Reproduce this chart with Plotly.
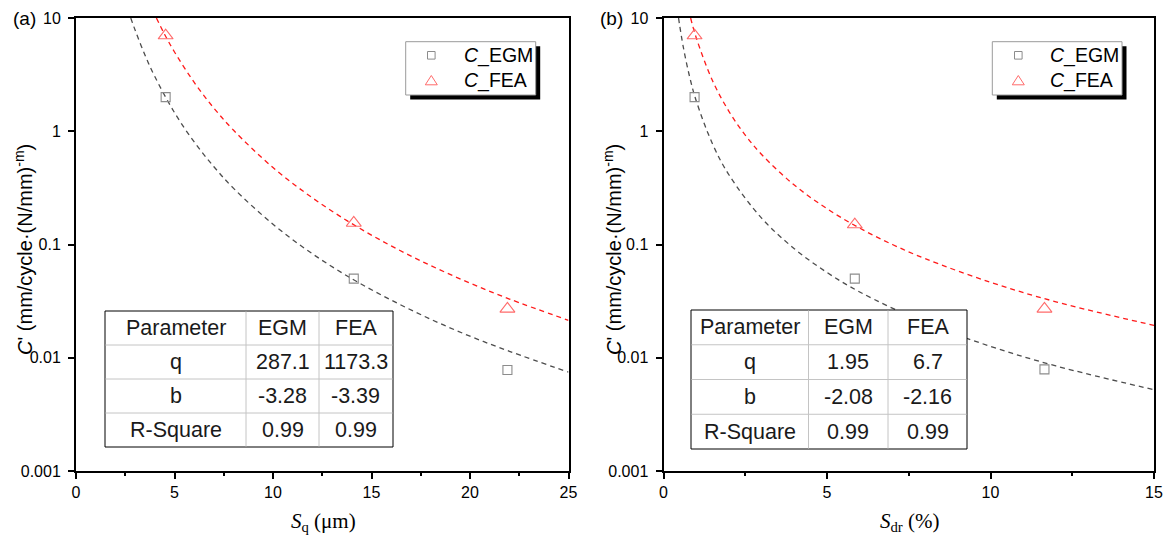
import plotly.graph_objects as go

W, H = 1170, 542

# ---------------- data ----------------
# panel (a): S_q (um)
a_x = [4.55, 14.1, 21.9]
a_egm = [2.0, 0.050, 0.0078]
a_fea = [7.0, 0.155, 0.027]
a_fit_egm_x = [2.78, 3, 3.5, 4, 5, 6, 7, 8, 10, 12, 14, 16, 18, 20, 22, 25]
a_fit_egm_y = [10.0, 7.82, 4.71, 3.04, 1.46, 0.804, 0.486, 0.313, 0.151, 0.0828,
               0.0499, 0.0323, 0.0219, 0.0155, 0.0114, 0.00746]
a_fit_fea_x = [4.08, 4.5, 5, 6, 7, 8, 10, 12, 14, 16, 18, 20, 22, 25]
a_fit_fea_y = [10.0, 7.16, 5.01, 2.70, 1.60, 1.02, 0.478, 0.258, 0.153, 0.0972,
               0.0652, 0.0456, 0.0330, 0.0214]

# panel (b): S_dr (%)
b_x = [0.95, 5.85, 11.65]
b_egm = [2.0, 0.050, 0.0079]
b_fea = [7.0, 0.150, 0.027]
b_fit_egm_x = [0.46, 0.6, 0.8, 1, 1.5, 2, 3, 4, 5, 6, 8, 10, 12, 15]
b_fit_egm_y = [10.0, 5.64, 3.02, 1.86, 0.772, 0.413, 0.171, 0.0918, 0.0566, 0.0381,
               0.0204, 0.0126, 0.00847, 0.00522]
b_fit_fea_x = [0.83, 1, 1.5, 2, 2.5, 3, 4, 5, 6, 7, 8, 10, 12, 15]
b_fit_fea_y = [10.0, 6.7, 2.79, 1.50, 0.925, 0.624, 0.335, 0.207, 0.1395, 0.100,
               0.075, 0.0464, 0.0312, 0.0193]

y_tickvals = [0.001, 0.01, 0.1, 1, 10]
y_ticktext = ["0.001", "0.01", "0.1", "1", "10"]

table_header = ["Parameter", "EGM", "FEA"]
table_params = ["q", "b", "R-Square"]
table_a_egm = ["287.1", "-3.28", "0.99"]
table_a_fea = ["1173.3", "-3.39", "0.99"]
table_b_egm = ["1.95", "-2.08", "0.99"]
table_b_fea = ["6.7", "-2.16", "0.99"]

series_names = ["<i>C</i>_EGM", "<i>C</i>_FEA"]

# ---------------- helpers ----------------
def fx(p):
    return p / W

def fy(p):
    return 1 - p / H

SANS = "Liberation Sans, Arial, sans-serif"
SERIF = "Liberation Serif, Times New Roman, serif"
GREY_LINE = "#4d4d4d"
RED_LINE = "#ff1a1a"
SQ_COL = "#8c8c8c"
TRI_COL = "#ff6b6b"

fig = go.Figure()

def add_panel(xa, ya, px, pe, pf, fex, fey, ffx, ffy):
    fig.add_trace(go.Scatter(x=fex, y=fey, mode="lines", xaxis=xa, yaxis=ya,
                             line=dict(color=GREY_LINE, width=1.3, dash="5px,4px", shape="spline"),
                             showlegend=False, hoverinfo="skip"))
    fig.add_trace(go.Scatter(x=ffx, y=ffy, mode="lines", xaxis=xa, yaxis=ya,
                             line=dict(color=RED_LINE, width=1.3, dash="5px,4px", shape="spline"),
                             showlegend=False, hoverinfo="skip"))
    fig.add_trace(go.Scatter(x=px, y=pe, mode="markers", xaxis=xa, yaxis=ya, name=series_names[0],
                             showlegend=False,
                             marker=dict(symbol="square-open", size=9, color=SQ_COL, line=dict(width=1.1))))
    fig.add_trace(go.Scatter(x=px, y=pf, mode="markers", xaxis=xa, yaxis=ya, name=series_names[1],
                             showlegend=False,
                             marker=dict(symbol="triangle-up-open", size=13, color=TRI_COL, line=dict(width=1.1))))

add_panel("x", "y", a_x, a_egm, a_fea, a_fit_egm_x, a_fit_egm_y, a_fit_fea_x, a_fit_fea_y)
add_panel("x2", "y2", b_x, b_egm, b_fea, b_fit_egm_x, b_fit_egm_y, b_fit_fea_x, b_fit_fea_y)

ydom = [fy(471), fy(18)]
common_x = dict(showline=True, linecolor="black", linewidth=2, mirror=True,
                ticks="outside", ticklen=6, tickwidth=1.5, tickcolor="black",
                showgrid=False, zeroline=False, dtick=5, tick0=0, automargin=False,
                tickfont=dict(family=SANS, size=16, color="black"),
                minor=dict(ticks="outside", ticklen=3, tickwidth=1.5, tickcolor="black", dtick=2.5, showgrid=False))
common_y = dict(type="log", range=[-3, 1], showline=True, linecolor="black", linewidth=2, mirror=True,
                ticks="outside", ticklen=6, tickwidth=1.5, tickcolor="black", automargin=False,
                showgrid=False, zeroline=False, tickvals=y_tickvals, ticktext=y_ticktext,
                tickfont=dict(family=SANS, size=16, color="black"), ticklabelstandoff=4,
                domain=ydom)

fig.update_layout(
    width=W, height=H, margin=dict(l=0, r=0, t=0, b=0, pad=0, autoexpand=False),
    paper_bgcolor="white", plot_bgcolor="white",
    xaxis=dict(domain=[fx(76), fx(568.5)], range=[0, 25], anchor="y", **common_x),
    yaxis=dict(anchor="x", **common_y),
    xaxis2=dict(domain=[fx(663.5), fx(1154)], range=[0, 15], anchor="y2", **common_x),
    yaxis2=dict(anchor="x2", **common_y),
    showlegend=False,
)

shapes = []
annotations = []

# legends (box with drop shadow, symbols, labels)
legend_boxes = [
    dict(l=405.7, t=41.7, r=535.7, b=95.0, sym_x=431.3, text_x=461.5),
    dict(l=992.3, t=41.7, r=1122.0, b=95.0, sym_x=1018.3, text_x=1048.0),
]
row_y = [55.3, 80.5]
for lb in legend_boxes:
    shapes.append(dict(type="rect", xref="paper", yref="paper", x0=fx(lb["l"] + 4.5), x1=fx(lb["r"] + 4.5),
                       y0=fy(lb["b"] + 4.5), y1=fy(lb["t"] + 4.5), fillcolor="black", line=dict(width=0),
                       layer="above"))
    shapes.append(dict(type="rect", xref="paper", yref="paper", x0=fx(lb["l"]), x1=fx(lb["r"]),
                       y0=fy(lb["b"]), y1=fy(lb["t"]), fillcolor="white", line=dict(color="#9a9a9a", width=1),
                       layer="above"))
    sx = lb["sym_x"]
    sy = row_y[0]
    shapes.append(dict(type="rect", xref="paper", yref="paper", x0=fx(sx - 3.8), x1=fx(sx + 3.8),
                       y0=fy(sy + 3.8), y1=fy(sy - 3.8), fillcolor="rgba(0,0,0,0)",
                       line=dict(color=SQ_COL, width=1), layer="above"))
    ty = row_y[1]
    shapes.append(dict(type="path", xref="paper", yref="paper",
                       path="M %f %f L %f %f L %f %f Z" % (fx(sx - 6), fy(ty + 4.3), fx(sx + 6), fy(ty + 4.3),
                                                           fx(sx), fy(ty - 5.0)),
                       fillcolor="rgba(0,0,0,0)", line=dict(color=TRI_COL, width=1), layer="above"))
    for name, yy in zip(series_names, row_y):
        annotations.append(dict(text=name, xref="paper", yref="paper", x=fx(lb["text_x"]), y=fy(yy),
                                xanchor="left", yanchor="middle", showarrow=False,
                                font=dict(family=SANS, size=19.5, color="black")))

# tables
def add_table(left, right, top, bottom, cols, egm_vals, fea_vals):
    shapes.append(dict(type="rect", xref="paper", yref="paper", x0=fx(left), x1=fx(right),
                       y0=fy(bottom), y1=fy(top), fillcolor="white",
                       line=dict(color="black", width=1), layer="above"))
    nrows = 4
    rh = (bottom - top) / nrows
    for i in range(1, nrows):
        yy = top + i * rh
        shapes.append(dict(type="line", xref="paper", yref="paper", x0=fx(left + 0.5), x1=fx(right - 0.5),
                           y0=fy(yy), y1=fy(yy), line=dict(color="#c4c4c4", width=1), layer="above"))
    for c in cols:
        shapes.append(dict(type="line", xref="paper", yref="paper", x0=fx(c), x1=fx(c),
                           y0=fy(top + 0.5), y1=fy(bottom - 0.5), line=dict(color="#c4c4c4", width=1), layer="above"))
    edges = [left] + cols + [right]
    centers = [(edges[k] + edges[k + 1]) / 2 for k in range(3)]
    rows = [table_header] + [[p, e, f] for p, e, f in zip(table_params, egm_vals, fea_vals)]
    for i, row in enumerate(rows):
        yc = top + (i + 0.5) * rh
        for k, txt in enumerate(row):
            annotations.append(dict(text=txt, xref="paper", yref="paper", x=fx(centers[k]), y=fy(yc),
                                    xanchor="center", yanchor="middle", showarrow=False,
                                    font=dict(family=SANS, size=21.5, color="#1a1a1a")))

add_table(105, 393, 311, 447, [246, 319], table_a_egm, table_a_fea)
add_table(691, 967, 310, 449, [808.5, 888], table_b_egm, table_b_fea)

# panel labels
annotations.append(dict(text="(a)", xref="paper", yref="paper", x=fx(24), y=fy(19),
                        xanchor="center", yanchor="middle", showarrow=False,
                        font=dict(family=SANS, size=19, color="black")))
annotations.append(dict(text="(b)", xref="paper", yref="paper", x=fx(611), y=fy(19),
                        xanchor="center", yanchor="middle", showarrow=False,
                        font=dict(family=SANS, size=19, color="black")))

# axis titles
ytitle = "<i>C</i>' (mm/cycle·(N/mm)<sup>-m</sup>)"
for xc in [24, 613]:
    annotations.append(dict(text=ytitle, xref="paper", yref="paper", x=fx(xc), y=fy(250),
                            xanchor="center", yanchor="middle", showarrow=False, textangle=-90,
                            font=dict(family=SANS, size=20, color="black")))
annotations.append(dict(text="<i>S</i><sub>q</sub> (μm)", xref="paper", yref="paper", x=fx(323), y=fy(522),
                        xanchor="center", yanchor="middle", showarrow=False,
                        font=dict(family=SERIF, size=21, color="black")))
annotations.append(dict(text="<i>S</i><sub>dr</sub> (%)", xref="paper", yref="paper", x=fx(909), y=fy(522),
                        xanchor="center", yanchor="middle", showarrow=False,
                        font=dict(family=SERIF, size=21, color="black")))

fig.update_layout(shapes=shapes, annotations=annotations)
fig.write_html("out.html")
